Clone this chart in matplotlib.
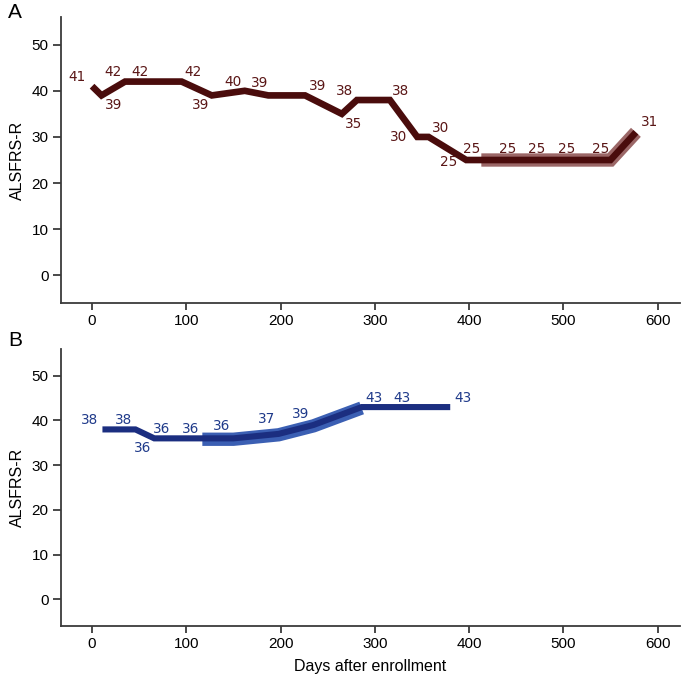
import numpy as np
import matplotlib.pyplot as plt

# panel A: patient scores over time
days_a = [0, 10, 35, 64, 95, 127, 162, 187, 226, 265, 281, 316, 345, 357, 397, 413, 452, 482, 514, 550, 577]
score_a = [41, 39, 42, 42, 42, 39, 40, 39, 39, 35, 38, 38, 30, 30, 25, 25, 25, 25, 25, 25, 31]
band_a_start = 15  # highlighted segment starts at this point

# panel B
days_b = [11, 46, 66, 87, 117, 150, 198, 235, 286, 316, 380]
score_b = [38, 38, 36, 36, 36, 36, 37, 39, 43, 43, 43]
band_b = (4, 9)

# label offsets in pixels (dx, dy)
off_a = [(-15, 9), (12, -10), (-12, 10), (-12, 10), (11, 10), (-11, -10), (-12, 9), (-9, 12),
         (13, 9), (12, -10), (-12, 9), (11, 9), (-19, 0), (12, 9), (-18, -2),
         (-10, 11), (-10, 11), (-10, 11), (-10, 11), (-10, 11), (14, 10)]
off_b = [(-13, 9), (-12, 9), (-12, -10), (-12, 9), (-12, 9), (-12, 12), (-12, 15), (-13, 11),
         (12, 9), (12, 9), (13, 9)]

plt.rcParams['font.family'] = ['Liberation Sans', 'DejaVu Sans']

fig = plt.figure(figsize=(6.85, 6.77), dpi=100)
axA = fig.add_axes([0.089, 0.5524, 0.904, 0.4225])
axB = fig.add_axes([0.089, 0.0753, 0.904, 0.4092])

def style(ax):
    ax.set_xlim(-33, 624)
    ax.set_ylim(-6, 56)
    ax.set_xticks([0, 100, 200, 300, 400, 500, 600])
    ax.set_yticks([0, 10, 20, 30, 40, 50])
    for s in ['top', 'right']:
        ax.spines[s].set_visible(False)
    for s in ['left', 'bottom']:
        ax.spines[s].set_color('#3a3a3a')
        ax.spines[s].set_linewidth(1.3)
    ax.tick_params(colors='#3a3a3a', labelcolor='black', width=1.3, length=5, labelsize=11, pad=3)
    ax.tick_params(axis='y', length=6)
    ax.set_ylabel('ALSFRS-R', fontsize=11.5, labelpad=5)

def labels(ax, xs, ys, offs, col):
    for x, y, (dx, dy) in zip(xs, ys, offs):
        ax.annotate(str(y), (x, y), xytext=(dx * 0.72, dy * 0.72), textcoords='offset points',
                    ha='center', va='center', fontsize=9.8, color=col, family='DejaVu Sans')

style(axA)
axA.plot(days_a[band_a_start:], score_a[band_a_start:], color='#8a4c4c', lw=9.6, alpha=0.85,
         solid_capstyle='butt', solid_joinstyle='miter')
axA.plot(days_a, score_a, color='#4a0c0c', lw=4.8, solid_capstyle='butt', solid_joinstyle='miter')
labels(axA, days_a, score_a, off_a, '#5a1616')

style(axB)
i0, i1 = band_b
axB.plot(days_b[i0:i1], np.array(score_b[i0:i1]) - 0.2, color='#3b5fb3', lw=9.6,
         solid_capstyle='butt', solid_joinstyle='miter')
axB.plot(days_b, score_b, color='#1b2e80', lw=4.4, solid_capstyle='butt', solid_joinstyle='miter')
labels(axB, days_b, score_b, off_b, '#1f3a8a')
axB.set_xlabel('Days after enrollment', fontsize=11.5, labelpad=6)

fig.text(0.012, 0.982, 'A', fontsize=15, va='center')
fig.text(0.012, 0.497, 'B', fontsize=15, va='center')

fig.savefig('out.png', dpi=100)
